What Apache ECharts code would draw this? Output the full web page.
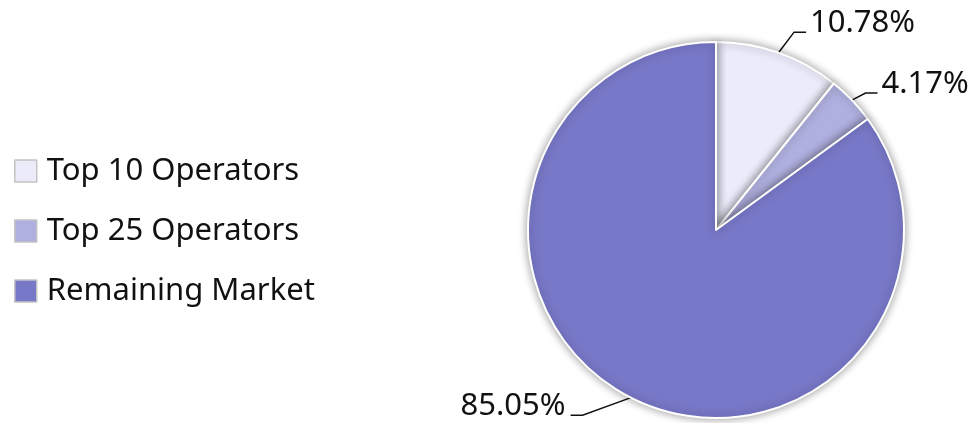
<!DOCTYPE html>
<html><head><meta charset="utf-8">
<script src="https://cdn.jsdelivr.net/npm/echarts@6/dist/echarts.min.js"></script>
<style>html,body{margin:0;padding:0;background:#fff}#c{width:979px;height:423px}</style>
</head><body><div id="c"></div>
<script>
const categories = ["Top 10 Operators", "Top 25 Operators", "Remaining Market"];
const values = [10.78, 4.17, 85.05];
const colors = ["#EBEBFA", "#B0B0E0", "#7878C8"];
const lineLengths = [26, 16, 14];
const labelShift = [[7, -5], [2, -5], [-43, -4]];
const chart = echarts.init(document.getElementById('c'));
chart.setOption({
  animation: false,
  textStyle: { fontFamily: "Noto Sans" },
  legend: {
    orient: 'vertical', left: 14, top: 153, padding: 0,
    itemWidth: 22, itemHeight: 22, itemGap: 24,
    icon: 'rect',
    itemStyle: { borderColor: '#c4c4c4', borderWidth: 1.5 },
    textStyle: { fontSize: 31, lineHeight: 36, color: '#111', fontFamily: "Noto Sans", padding: [0, 0, 0, 5] },
    data: categories
  },
  series: [{
    type: 'pie',
    center: [716, 230], radius: 188,
    startAngle: 90, clockwise: true,
    data: categories.map((n, i) => ({
      name: n, value: values[i], itemStyle: { color: colors[i] },
      labelLine: { length: lineLengths[i], length2: 12 }
    })),
    itemStyle: { borderColor: '#fff', borderWidth: 2, shadowBlur: 10, shadowColor: 'rgba(0,0,0,0.4)' },
    label: { formatter: '{d}%', fontSize: 31, color: '#111', fontFamily: "Noto Sans", distanceToLabelLine: 4 },
    labelLine: { show: true, lineStyle: { color: '#111', width: 1.5 } },
    labelLayout: (p) => {
      const [dx, dy] = labelShift[p.dataIndex];
      const r = p.labelRect;
      const cy = r.y + r.height / 2 + dy + 9;
      const start = p.labelLinePoints ? p.labelLinePoints[0] : null;
      const right = start && start[0] < 716;
      let end, elbow;
      if (right) {
        end = [r.x + r.width + dx + 5, cy];
        elbow = [end[0] + 12, cy];
      } else {
        end = [r.x + dx - 4, cy];
        elbow = [end[0] - 12, cy];
      }
      const out = { dx, dy };
      if (start) out.labelLinePoints = [start, elbow, end];
      return out;
    }
  }]
});
</script></body></html>
